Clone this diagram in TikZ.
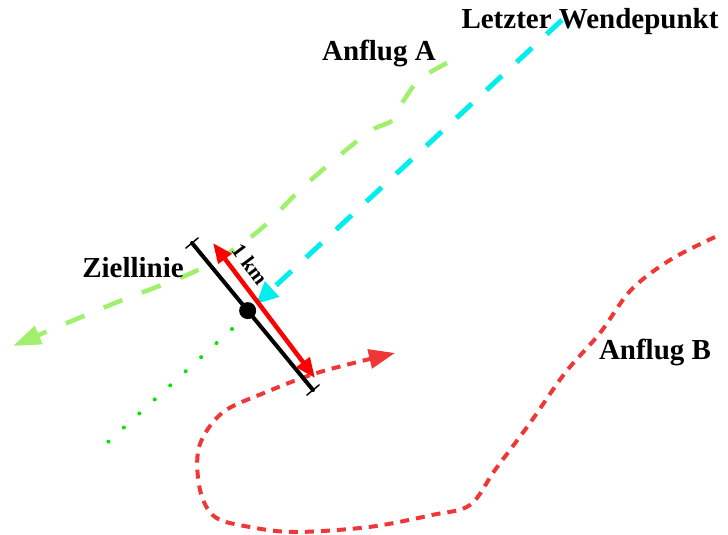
\documentclass[tikz,border=0pt]{standalone}
\usepackage{fontspec}
\setmainfont{Liberation Serif}
\usetikzlibrary{arrows.meta,calc}
\definecolor{gruenA}{RGB}{160,240,110}
\definecolor{rotB}{RGB}{240,55,55}
\definecolor{wendecyan}{RGB}{0,238,238}
\definecolor{punktgruen}{RGB}{0,230,0}

\begin{document}
\begin{tikzpicture}[x=1pt,y=-1pt,>={Triangle[length=20pt,width=16pt]},
	font=\bfseries\fontsize{29}{32}\selectfont, line join=round, line cap=round,
	anflugA/.style={gruenA,line width=4.5pt,line cap=butt,dash pattern=on 20pt off 21pt},
	anflugB/.style={rotB,line width=4pt,line cap=butt,dash pattern=on 9pt off 7pt},
	wende/.style={wendecyan,line width=5pt,line cap=butt,dash pattern=on 21pt off 20pt},
	punktiert/.style={punktgruen,line width=4pt,dash pattern=on 0pt off 20.9pt}]
	\useasboundingbox (0,0) rectangle (728,535);
	\coordinate (Z1) at (192,243);
	\coordinate (Z2) at (313,390);
	\coordinate (M) at ($(Z1)!0.46!(Z2)$);
	\coordinate (R1) at (213,243);
	\coordinate (R2) at (315,378);
	\coordinate (W) at (562,20);
	\coordinate (Wz) at (256,304);
	\coordinate (D1) at (232,329);
	\coordinate (D2) at (108,442);
	\draw[punktiert] (D1) -- (D2);
	\draw[anflugA,-{Triangle[length=28pt,width=19pt]}] plot[smooth,tension=0.55] coordinates {(447,63) (420,79) (404,100) (393,120) (372,130) (340,155) (300,190) (262,228) (225,255) (187,275) (110,305) (13,346)};
	\draw[wende,-{Triangle[length=22pt,width=20pt]}] (W) -- (Wz);
	\draw[anflugB,-{Triangle[length=26pt,width=19pt]}] plot[smooth,tension=0.55] coordinates {(715,237) (670,260) (631,290) (600,333) (565,373) (530,423) (495,470) (470,505) (432,515) (369,527) (295,532) (250,527) (215,517) (200,490) (199,447) (222,413) (264,393) (320,372) (395,353)};
	\draw[line width=4pt] (Z1) -- (Z2);
	\draw[line width=1.5pt] ($(Z1)!8pt!90:(Z2)$) -- ($(Z1)!8pt!-90:(Z2)$);
	\draw[line width=1.5pt] ($(Z2)!8pt!90:(Z1)$) -- ($(Z2)!8pt!-90:(Z1)$);
	\fill (M) circle (8.5pt);
	\draw[red,line width=4.5pt,line cap=butt,<->] (R1) -- (R2);
	\node (wp) at (590,22) {Letzter Wendepunkt};
	\node (aa) at (379,53) {Anflug A};
	\node (zl) at (133,268) {Ziellinie};
	\node (ab) at (655,352) {Anflug B};
	\node[rotate=-53,font=\bfseries\fontsize{21}{24}\selectfont] (km) at (250,264) {1 km};
\end{tikzpicture}
\end{document}
